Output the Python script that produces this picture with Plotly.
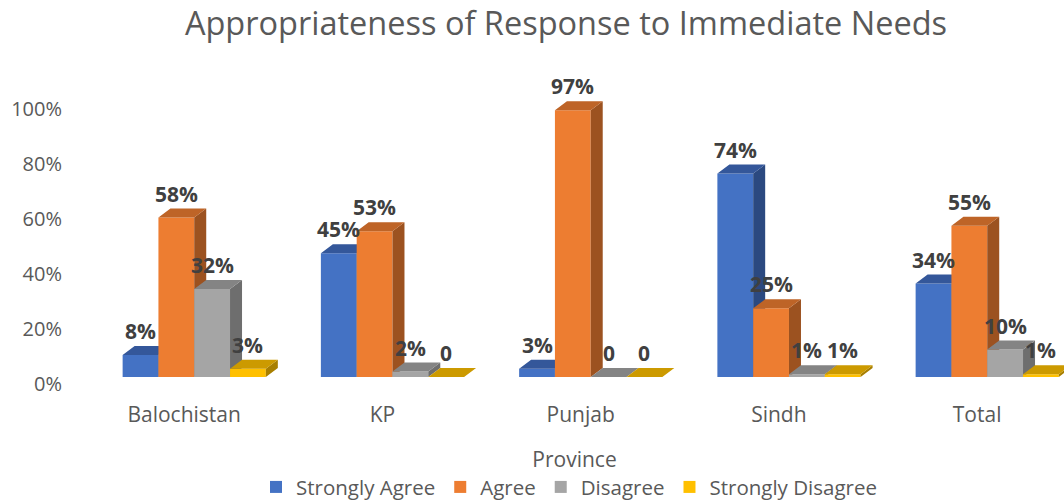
import plotly.graph_objects as go

# ---------------- data ----------------
provinces = ["Balochistan", "KP", "Punjab", "Sindh", "Total"]
series_names = ["Strongly Agree", "Agree", "Disagree", "Strongly Disagree"]
strongly_agree = [8, 45, 3, 74, 34]
agree = [58, 53, 97, 25, 55]
disagree = [32, 2, 0, 1, 10]
strongly_disagree = [3, 0, 0, 1, 1]
y_ticks = [0, 20, 40, 60, 80, 100]

series_values = [strongly_agree, agree, disagree, strongly_disagree]
front_colors = ["#4472C4", "#ED7D31", "#A5A5A5", "#FFC000"]
top_colors = ["#34579A", "#BE6427", "#848484", "#CC9A00"]
side_colors = ["#2B4980", "#9C5220", "#6E6E6E", "#A87F00"]

# ---------------- geometry (style) ----------------
W_PX, H_PX = 1064, 503
M_L, M_R, M_T, M_B = 85, 0, 88, 115
plot_w = W_PX - M_L - M_R
plot_h = H_PX - M_T - M_B
x_range = [-0.5, -0.5 + plot_w / 198.25]
px_per_unit_x = plot_w / (x_range[1] - x_range[0])
px_per_pct = 2.75
bar_range = [-(388 - 377) / px_per_pct, -(388 - 377) / px_per_pct + plot_h / px_per_pct]

bar_w = 35.8 / px_per_unit_x
group_start = -61.5 / px_per_unit_x
depth_dx = 12 / px_per_unit_x
depth_dy = 9 / px_per_pct

axis_ids = ["y", "y2", "y3", "y4"]

fig = go.Figure()
annotations = []

for j, (name, vals) in enumerate(zip(series_names, series_values)):
    yax = axis_ids[j]
    centers = [i + group_start + j * bar_w + bar_w / 2 for i in range(len(provinces))]
    fig.add_trace(go.Bar(
        x=centers, y=vals, width=bar_w, name=name,
        marker=dict(color=front_colors[j], line=dict(width=0)),
        xaxis="x", yaxis=yax, hoverinfo="skip",
    ))
    tx, ty, sx, sy = [], [], [], []
    for c, v in zip(centers, vals):
        x0, x1 = c - bar_w / 2, c + bar_w / 2
        tx += [x0, x1, x1 + depth_dx, x0 + depth_dx, x0, None]
        ty += [v, v, v + depth_dy, v + depth_dy, v, None]
        sx += [x1, x1, x1 + depth_dx, x1 + depth_dx, x1, None]
        sy += [0, v, v + depth_dy, depth_dy, 0, None]
        annotations.append(dict(
            x=c, y=v, xref="x", yref=yax, text=(f"{v}%" if v else "0"),
            showarrow=False, yanchor="middle", yshift=24,
            font=dict(family="Open Sans", size=21, color="#404040", weight="bold"),
        ))
    fig.add_trace(go.Scatter(x=sx, y=sy, mode="lines", fill="toself",
                             fillcolor=side_colors[j], line=dict(width=0),
                             xaxis="x", yaxis=yax, showlegend=False, hoverinfo="skip"))
    fig.add_trace(go.Scatter(x=tx, y=ty, mode="lines", fill="toself",
                             fillcolor=top_colors[j], line=dict(width=0),
                             xaxis="x", yaxis=yax, showlegend=False, hoverinfo="skip"))

hidden_axis = dict(range=bar_range, overlaying="y", visible=False, anchor="x")

fig.update_layout(
    width=W_PX, height=H_PX,
    margin=dict(l=M_L, r=M_R, t=M_T, b=M_B, autoexpand=False),
    paper_bgcolor="white", plot_bgcolor="rgba(0,0,0,0)",
    font=dict(family="Open Sans", color="#595959"),
    title=dict(text="Appropriateness of Response to Immediate Needs",
               x=566 / W_PX, xanchor="center", y=1 - 23.5 / H_PX, yanchor="middle",
               font=dict(size=32.5, color="#595959")),
    barmode="overlay",
    xaxis=dict(range=x_range, tickvals=list(range(len(provinces))), ticktext=provinces,
               showgrid=False, zeroline=False, showline=False, ticks="",
               tickfont=dict(size=21, color="#595959"), ticklabelstandoff=12,
               title=dict(text="Province", font=dict(size=21, color="#595959"), standoff=25)),
    yaxis=dict(range=bar_range, tickvals=y_ticks, ticktext=[f"{t}%" for t in y_ticks],
               showgrid=False, zeroline=False, showline=False, ticks="",
               tickfont=dict(size=20, color="#595959"), ticklabelstandoff=22,
               ticklabelshift=7),
    yaxis2=hidden_axis, yaxis3=hidden_axis, yaxis4=hidden_axis,
    legend=dict(orientation="h", x=(569 - M_L) / plot_w, xanchor="center",
                y=-0.397, yanchor="bottom",
                font=dict(size=20.5, color="#595959"), bgcolor="rgba(0,0,0,0)"),
    annotations=annotations,
    showlegend=True,
)

fig.write_html(
    "out.html",
    config={"displayModeBar": False},
    post_script="document.body.style.margin='0';document.body.style.overflow='hidden';",
)
